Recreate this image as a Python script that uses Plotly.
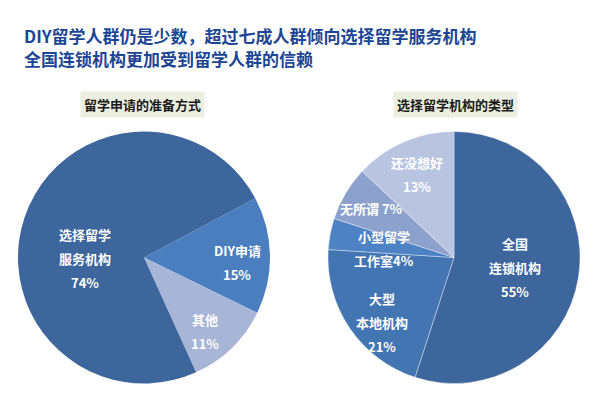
import plotly.graph_objects as go

# ---- data ----
left_labels = ["DIY申请", "其他", "选择留学服务机构"]
left_display = [["DIY申请", "15%"], ["其他", "11%"], ["选择留学", "服务机构", "74%"]]
left_values = [15, 11, 74]
left_colors = ["#4A7EBE", "#A7B5D7", "#3D669C"]

right_labels = ["全国连锁机构", "大型本地机构", "小型留学工作室", "无所谓", "还没想好"]
right_display = [["全国", "连锁机构", "55%"], ["大型", "本地机构", "21%"], ["小型留学", "工作室4%"], ["无所谓 7%"], ["还没想好", "13%"]]
right_values = [55, 21, 4, 7, 13]
right_colors = ["#3D669C", "#4475B3", "#4D82C5", "#8DA1CD", "#B9C4E1"]

title_lines = ["DIY留学人群仍是少数，超过七成人群倾向选择留学服务机构", "全国连锁机构更加受到留学人群的信赖"]
subtitles = ["留学申请的准备方式", "选择留学机构的类型"]

# ---- layout constants (pixels) ----
W, H = 600, 400
left_label_pos = [(237, 250), (205, 319), (85, 234)]
right_label_pos = [(515, 243), (382, 298), (384, 236), (371, 208), (417, 162)]
LINE_GAP = 24

CJK = "Noto Sans CJK SC"

fig = go.Figure()
fig.add_trace(go.Pie(
    labels=left_labels, values=left_values, sort=False, direction="clockwise",
    rotation=62, textinfo="none", hoverinfo="label+percent",
    marker=dict(colors=left_colors, line=dict(width=0)),
    domain=dict(x=[18 / W, 270 / W], y=[(H - 384) / H, (H - 131) / H]),
    showlegend=False,
))
fig.add_trace(go.Pie(
    labels=right_labels, values=right_values, sort=False, direction="clockwise",
    rotation=0, textinfo="none", hoverinfo="label+percent",
    marker=dict(colors=right_colors, line=dict(width=0.6, color="rgba(255,255,255,0.6)")),
    domain=dict(x=[328 / W, 580 / W], y=[(H - 384) / H, (H - 131) / H]),
    showlegend=False,
))

annotations = []

def add_label(lines, pos):
    x, y = pos
    for i, t in enumerate(lines):
        annotations.append(dict(
            x=x / W, y=1 - (y + i * LINE_GAP) / H, xref="paper", yref="paper",
            text="<b>" + t + "</b>", showarrow=False, xanchor="center", yanchor="middle",
            font=dict(family=CJK, size=13, color="white"),
        ))

for lines, pos in zip(left_display, left_label_pos):
    add_label(lines, pos)
for lines, pos in zip(right_display, right_label_pos):
    add_label(lines, pos)

# title lines
for i, t in enumerate(title_lines):
    annotations.append(dict(
        x=23 / W, y=1 - (35 + i * 23) / H, xref="paper", yref="paper",
        text="<b>" + t + "</b>", showarrow=False, xanchor="left", yanchor="middle",
        font=dict(family=CJK, size=17, color="#1C4694"), borderpad=0,
    ))

# subtitle boxes
for t, cx in zip(subtitles, [142, 455]):
    annotations.append(dict(
        x=cx / W, y=1 - 104 / H, xref="paper", yref="paper",
        text="<b>" + t + "</b>", showarrow=False, xanchor="center", yanchor="middle",
        font=dict(family=CJK, size=13, color="#1A1A1A"),
        bgcolor="#ECEFE0", borderpad=3,
    ))

fig.update_layout(
    width=W, height=H, margin=dict(l=0, r=0, t=0, b=0),
    paper_bgcolor="white", plot_bgcolor="white",
    annotations=annotations,
)

fig.write_html("out.html")
